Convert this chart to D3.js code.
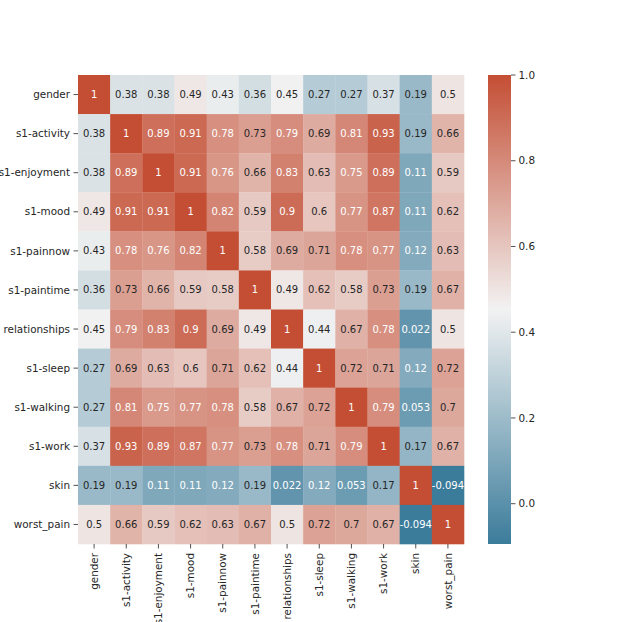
<!DOCTYPE html>
<html>
<head>
<meta charset="utf-8">
<title>Correlation heatmap</title>
<style>
body { margin: 0; background: #fff; }
#chart { width: 623px; height: 622px; }
text { font-family: 'DejaVu Sans', sans-serif; font-size: 10px; }
.tick_label { fill: #262626; font-size: 10.4px; }
.tick_line { stroke: #262626; stroke-width: 0.8; }
</style>
<script src="https://d3js.org/d3.v7.min.js"></script>
</head>
<body>
<div id="chart"></div>
<script>

var labels = ["gender", "s1-activity", "s1-enjoyment", "s1-mood", "s1-painnow", "s1-paintime",
              "relationships", "s1-sleep", "s1-walking", "s1-work", "skin", "worst_pain"];

// correlation matrix, one row per label
var corr = [
  [1, 0.38, 0.38, 0.49, 0.43, 0.36, 0.45, 0.27, 0.27, 0.37, 0.19, 0.5],
  [0.38, 1, 0.89, 0.91, 0.78, 0.73, 0.79, 0.69, 0.81, 0.93, 0.19, 0.66],
  [0.38, 0.89, 1, 0.91, 0.76, 0.66, 0.83, 0.63, 0.75, 0.89, 0.11, 0.59],
  [0.49, 0.91, 0.91, 1, 0.82, 0.59, 0.9, 0.6, 0.77, 0.87, 0.11, 0.62],
  [0.43, 0.78, 0.76, 0.82, 1, 0.58, 0.69, 0.71, 0.78, 0.77, 0.12, 0.63],
  [0.36, 0.73, 0.66, 0.59, 0.58, 1, 0.49, 0.62, 0.58, 0.73, 0.19, 0.67],
  [0.45, 0.79, 0.83, 0.9, 0.69, 0.49, 1, 0.44, 0.67, 0.78, 0.022, 0.5],
  [0.27, 0.69, 0.63, 0.6, 0.71, 0.62, 0.44, 1, 0.72, 0.71, 0.12, 0.72],
  [0.27, 0.81, 0.75, 0.77, 0.78, 0.58, 0.67, 0.72, 1, 0.79, 0.053, 0.7],
  [0.37, 0.93, 0.89, 0.87, 0.77, 0.73, 0.78, 0.71, 0.79, 1, 0.17, 0.67],
  [0.19, 0.19, 0.11, 0.11, 0.12, 0.19, 0.022, 0.12, 0.053, 0.17, 1, -0.094],
  [0.5, 0.66, 0.59, 0.62, 0.63, 0.67, 0.5, 0.72, 0.7, 0.67, -0.094, 1]
];

var cbar_ticks = [0.0, 0.2, 0.4, 0.6, 0.8, 1.0];

var cells = [];
corr.forEach(function(row, i) {
  row.forEach(function(v, j) {
    cells.push({ row: labels[i], col: labels[j], value: v });
  });
});

var vmin = d3.min(cells, function(d) { return d.value; });
var vmax = d3.max(cells, function(d) { return d.value; });

var margin = { top: 75, left: 78 };
var width = 386, height = 469;

var scale_x = d3.scaleBand().domain(labels).range([0, width]);
var scale_y = d3.scaleBand().domain(labels).range([0, height]);

var scale_color = d3.scaleLinear()
                    .domain([vmin, (vmin + vmax) / 2, vmax])
                    .range(["rgb(59,124,155)", "rgb(242,242,242)", "rgb(196,78,52)"])
                    .interpolate(d3.interpolateRgb);

var fmt = d3.format(".2~g");
fmt_annot = function(v) { return fmt(v).replace("\u2212", "-"); }

// seaborn style: white text on dark cells
lum = function(c) {
  var rgb = d3.rgb(c);
  var lin = [rgb.r, rgb.g, rgb.b].map(function(x) {
    x = x / 255;
    return x <= 0.03928 ? x / 12.92 : Math.pow((x + 0.055) / 1.055, 2.4);
  });
  return 0.2126 * lin[0] + 0.7152 * lin[1] + 0.0722 * lin[2];
}

var svg = d3.select("#chart").append("svg")
            .attr("width", 623).attr("height", 622);

var chart = svg.append("g")
               .attr("transform", "translate(" + margin.left + "," + margin.top + ")");

chart.selectAll(".cell")
     .data(cells)
     .enter()
     .append("rect")
     .attr("class", "cell")
     .attr("x", function(d) { return scale_x(d.col); })
     .attr("y", function(d) { return scale_y(d.row); })
     .attr("width", scale_x.bandwidth() + 0.3)
     .attr("height", scale_y.bandwidth() + 0.3)
     .attr("fill", function(d) { return scale_color(d.value); });

chart.selectAll(".annot")
     .data(cells)
     .enter()
     .append("text")
     .attr("class", "annot")
     .attr("x", function(d) { return scale_x(d.col) + scale_x.bandwidth() / 2; })
     .attr("y", function(d) { return scale_y(d.row) + scale_y.bandwidth() / 2; })
     .attr("text-anchor", "middle")
     .attr("dy", "0.35em")
     .attr("fill", function(d) { return lum(scale_color(d.value)) > 0.408 ? "#262626" : "#ffffff"; })
     .text(function(d) { return fmt_annot(d.value); });

// y axis (row labels)
var y_ticks = chart.append("g").selectAll("g")
                   .data(labels).enter().append("g")
                   .attr("transform", function(d) { return "translate(0," + (scale_y(d) + scale_y.bandwidth() / 2) + ")"; });
y_ticks.append("line").attr("class", "tick_line").attr("x1", -4.5).attr("x2", 0);
y_ticks.append("text").attr("class", "tick_label")
       .attr("x", -8).attr("dy", "0.35em").attr("text-anchor", "end")
       .text(function(d) { return d; });

// x axis (column labels, rotated)
var x_ticks = chart.append("g").selectAll("g")
                   .data(labels).enter().append("g")
                   .attr("transform", function(d) { return "translate(" + (scale_x(d) + scale_x.bandwidth() / 2) + "," + height + ")"; });
x_ticks.append("line").attr("class", "tick_line").attr("y1", 0).attr("y2", 4.5);
x_ticks.append("text").attr("class", "tick_label")
       .attr("transform", "translate(0,9) rotate(-90)")
       .attr("dy", "0.35em").attr("text-anchor", "end")
       .text(function(d) { return d; });

// colorbar
var cb_x = 488, cb_w = 23;
var scale_cb = d3.scaleLinear().domain([vmin, vmax]).range([margin.top + height, margin.top]);

var grad = svg.append("defs").append("linearGradient")
              .attr("id", "cb_grad")
              .attr("x1", 0).attr("y1", 1).attr("x2", 0).attr("y2", 0);
grad.selectAll("stop")
    .data(scale_color.domain())
    .enter().append("stop")
    .attr("offset", function(d) { return (d - vmin) / (vmax - vmin); })
    .attr("stop-color", function(d) { return scale_color(d); });

svg.append("rect")
   .attr("x", cb_x).attr("y", margin.top)
   .attr("width", cb_w).attr("height", height)
   .attr("fill", "url(#cb_grad)");

var cb_axis = svg.append("g").selectAll("g")
                 .data(cbar_ticks).enter().append("g")
                 .attr("transform", function(d) { return "translate(" + (cb_x + cb_w) + "," + scale_cb(d) + ")"; });
cb_axis.append("line").attr("class", "tick_line").attr("x1", 0).attr("x2", 4.5);
cb_axis.append("text").attr("class", "tick_label")
       .attr("x", 7.5).attr("dy", "0.35em")
       .text(function(d) { return d3.format(".1f")(d); });

</script>
</body>
</html>
